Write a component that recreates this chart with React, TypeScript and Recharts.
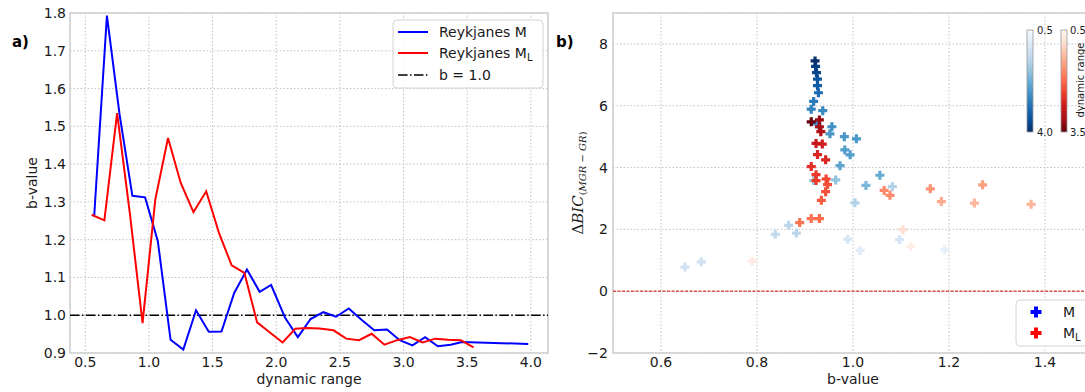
import React from "react"
import {
  LineChart,
  Line,
  ScatterChart,
  Scatter,
  XAxis,
  YAxis,
  CartesianGrid,
  ReferenceLine,
  ReferenceArea,
  Label
} from "recharts"

// panel a) b-value against dynamic range
const blueRange = [0.57, 0.67, 0.77, 0.87, 0.97, 1.07, 1.17, 1.27, 1.37, 1.47, 1.57, 1.67, 1.77, 1.87, 1.96, 2.07, 2.17, 2.27, 2.37, 2.47, 2.57, 2.67, 2.77, 2.87, 2.97, 3.07, 3.17, 3.27, 3.37, 3.46, 3.98]
const blueB = [1.262, 1.793, 1.53, 1.316, 1.312, 1.196, 0.935, 0.909, 1.013, 0.956, 0.957, 1.059, 1.121, 1.062, 1.08, 0.993, 0.942, 0.99, 1.008, 0.996, 1.018, 0.988, 0.96, 0.962, 0.934, 0.92, 0.942, 0.918, 0.922, 0.929, 0.924]
const redRange = [0.55, 0.65, 0.75, 0.85, 0.95, 1.05, 1.15, 1.25, 1.35, 1.45, 1.55, 1.65, 1.75, 1.85, 1.94, 2.05, 2.15, 2.24, 2.34, 2.45, 2.55, 2.65, 2.75, 2.85, 2.95, 3.05, 3.15, 3.25, 3.35, 3.45, 3.55]
const redB = [1.266, 1.251, 1.535, 1.27, 0.979, 1.306, 1.469, 1.35, 1.273, 1.328, 1.218, 1.132, 1.112, 0.981, 0.957, 0.928, 0.964, 0.966, 0.965, 0.96, 0.938, 0.934, 0.951, 0.922, 0.934, 0.942, 0.928, 0.938, 0.935, 0.934, 0.915]
const rangeTicks = [0.5, 1.0, 1.5, 2.0, 2.5, 3.0, 3.5, 4.0]
const bTicks = [0.9, 1.0, 1.1, 1.2, 1.3, 1.4, 1.5, 1.6, 1.7, 1.8]

// panel b) delta BIC against b-value, coloured by dynamic range
const mB = [0.65, 0.684, 1.191, 1.015, 0.989, 1.097, 0.838, 0.882, 0.866, 1.004, 1.082, 0.918, 0.964, 1.027, 0.973, 1.056, 0.994, 0.983, 1.007, 0.982, 0.952, 0.956, 0.925, 0.937, 0.913, 0.918, 0.928, 0.926, 0.926, 0.924, 0.922, 0.921]
const mDbic = [0.78, 0.95, 1.34, 1.32, 1.68, 1.67, 1.84, 1.88, 2.13, 2.86, 3.38, 3.58, 3.6, 3.42, 4.06, 3.75, 4.41, 4.57, 4.93, 5.0, 5.09, 5.32, 5.41, 5.84, 5.89, 6.14, 6.42, 6.65, 6.86, 7.07, 7.27, 7.45]
const mRange = [1.2, 1.2, 0.8, 0.9, 1.1, 1.1, 1.4, 1.5, 1.5, 1.6, 1.6, 1.8, 1.9, 2.1, 2.4, 2.3, 2.5, 2.5, 2.6, 2.6, 2.6, 2.7, 2.7, 2.8, 2.9, 3.0, 3.2, 3.4, 3.5, 3.7, 3.8, 4.0]
const mlB = [0.79, 1.12, 1.104, 1.371, 1.253, 1.184, 1.161, 1.27, 1.077, 1.065, 0.889, 0.913, 0.93, 0.934, 0.943, 0.947, 0.944, 0.923, 0.923, 0.913, 0.943, 0.926, 0.936, 0.923, 0.933, 0.93, 0.93, 0.913]
const mlDbic = [0.97, 1.45, 1.99, 2.81, 2.85, 2.9, 3.31, 3.44, 3.1, 3.26, 2.22, 2.35, 2.35, 2.94, 3.22, 3.45, 3.63, 3.58, 3.77, 4.03, 4.25, 4.42, 4.76, 4.78, 5.16, 5.32, 5.54, 5.48]
const mlRange = [0.7, 0.6, 0.9, 1.3, 1.3, 1.4, 1.6, 1.5, 1.7, 1.7, 1.9, 1.9, 2.0, 2.1, 2.2, 2.2, 2.3, 2.4, 2.4, 2.5, 2.6, 2.6, 2.7, 2.8, 3.0, 3.1, 3.2, 3.5]
const bvalTicks = [0.6, 0.8, 1.0, 1.2, 1.4]
const dbicTicks = [-2, 0, 2, 4, 6, 8]

const BLUES = ["#f7fbff", "#deebf7", "#c6dbef", "#9ecae1", "#6baed6", "#4292c6", "#2171b5", "#08519c", "#08306b"]
const REDS = ["#fff5f0", "#fee0d2", "#fcbba1", "#fc9272", "#fb6a4a", "#ef3b2c", "#cb181d", "#a50f15", "#67000d"]

const FONT = "'DejaVu Sans', Verdana, sans-serif"
const SPINE = "#cfcfcf"
const GRID = "#b4b4b4"

const hex = (h: string) => [1, 3, 5].map((i) => parseInt(h.slice(i, i + 2), 16))

const cmap = (stops: string[], lo: number, hi: number) => (v: number) => {
  const t = Math.min(1, Math.max(0, (v - lo) / (hi - lo)))
  const p = t * (stops.length - 1)
  const i = Math.min(stops.length - 2, Math.floor(p))
  const f = p - i
  const a = hex(stops[i])
  const b = hex(stops[i + 1])
  const c = a.map((x, k) => Math.round(x + (b[k] - x) * f))
  return `rgb(${c[0]},${c[1]},${c[2]})`
}
const blueColor = cmap(BLUES, 0.5, 4.0)
const redColor = cmap(REDS, 0.5, 3.5)

const blueLine = blueRange.map((x, i) => ({ x, y: blueB[i] }))
const redLine = redRange.map((x, i) => ({ x, y: redB[i] }))
const mPoints = mB.map((x, i) => ({ x, y: mDbic[i], dr: mRange[i] }))
const mlPoints = mlB.map((x, i) => ({ x, y: mlDbic[i], dr: mlRange[i] }))

const plusPath = (cx: number, cy: number, s: number, w: number) =>
  `M${cx - w},${cy - s}H${cx + w}V${cy - w}H${cx + s}V${cy + w}H${cx + w}V${cy + s}H${cx - w}V${cy + w}H${cx - s}V${cy - w}H${cx - w}Z`

const tickStyle = { fontSize: 14, fill: "#1a1a1a", fontFamily: FONT }
const f1 = (v: number) => v.toFixed(1)
const fInt = (v: number) => (v < 0 ? "\u2212" + Math.abs(v) : String(v))

const vbOf = (p: any) => p.viewBox ?? { x: 0, y: 0, width: 0, height: 0 }

export default function App() {
  return (
    <div
      style={{
        position: "absolute",
        left: 0,
        top: 0,
        width: 1085,
        height: 392,
        overflow: "hidden",
        background: "#fff",
        fontFamily: FONT
      }}
    >
      {/* a) */}
      <div style={{ position: "absolute", left: 0, top: 0 }}>
        <LineChart width={560} height={392} margin={{ top: 13, right: 12, bottom: 9, left: 20 }}>
          <CartesianGrid stroke={GRID} strokeDasharray="1.5 2" strokeWidth={0.8} />
          <XAxis
            dataKey="x"
            type="number"
            domain={[0.38, 4.135]}
            allowDataOverflow
            ticks={rangeTicks}
            tickFormatter={f1}
            tick={tickStyle}
            tickLine={false}
            axisLine={false}
            tickSize={2}
            tickMargin={2}
            height={30}
          >
            <Label
              content={(p: any) => {
                const vb = vbOf(p)
                return (
                  <text x={vb.x + vb.width / 2} y={vb.y + 31} textAnchor="middle" fontSize={14} fontFamily={FONT} fill="#1a1a1a">
                    dynamic range
                  </text>
                )
              }}
            />
          </XAxis>
          <YAxis
            type="number"
            domain={[0.9, 1.8]}
            allowDataOverflow
            ticks={bTicks}
            tickFormatter={f1}
            tick={tickStyle}
            tickLine={false}
            axisLine={false}
            tickSize={2}
            tickMargin={2}
            width={50}
          >
            <Label
              content={(p: any) => {
                const vb = vbOf(p)
                const cx = vb.x + 17
                const cy = vb.y + vb.height / 2
                return (
                  <text transform={`translate(${cx},${cy}) rotate(-90)`} textAnchor="middle" fontSize={14} fontFamily={FONT} fill="#1a1a1a">
                    b-value
                  </text>
                )
              }}
            />
          </YAxis>
          <ReferenceArea x1={0.38} x2={4.135} y1={0.9} y2={1.8} fill="none" stroke={SPINE} strokeWidth={1.5} ifOverflow="visible" />
          <ReferenceLine y={1.0} stroke="#000" strokeWidth={1.6} strokeDasharray="9.6 2.4 1.5 2.4" />
          <Line data={blueLine} dataKey="y" stroke="#0000ff" strokeWidth={2} dot={false} isAnimationActive={false} />
          <Line data={redLine} dataKey="y" stroke="#ff0000" strokeWidth={2} dot={false} isAnimationActive={false} />
        </LineChart>
      </div>

      {/* b) */}
      <div style={{ position: "absolute", left: 560, top: 0 }}>
        <ScatterChart width={540} height={392} margin={{ top: 13, right: 7, bottom: 9, left: 3 }}>
          <CartesianGrid stroke={GRID} strokeDasharray="1.5 2" strokeWidth={0.8} />
          <XAxis
            dataKey="x"
            type="number"
            domain={[0.5, 1.5]}
            allowDataOverflow
            ticks={bvalTicks}
            tickFormatter={f1}
            tick={tickStyle}
            tickLine={false}
            axisLine={false}
            tickSize={2}
            tickMargin={2}
            height={30}
          >
            <Label
              content={(p: any) => {
                const vb = vbOf(p)
                return (
                  <text x={vb.x + vb.width / 2} y={vb.y + 31} textAnchor="middle" fontSize={14} fontFamily={FONT} fill="#1a1a1a">
                    b-value
                  </text>
                )
              }}
            />
          </XAxis>
          <YAxis
            dataKey="y"
            type="number"
            domain={[-2, 9]}
            allowDataOverflow
            ticks={dbicTicks}
            tickFormatter={fInt}
            tick={tickStyle}
            tickLine={false}
            axisLine={false}
            tickSize={2}
            tickMargin={3}
            width={50}
          >
            <Label
              content={(p: any) => {
                const vb = vbOf(p)
                const cx = vb.x + 20
                const cy = vb.y + vb.height / 2
                return (
                  <text transform={`translate(${cx},${cy}) rotate(-90)`} textAnchor="middle" fontSize={15} fontFamily="'DejaVu Serif', serif" fill="#1a1a1a">
                    <tspan>Δ</tspan>
                    <tspan fontStyle="italic">BIC</tspan>
                    <tspan fontSize={10} dy={3}>(</tspan>
                    <tspan fontSize={10} fontStyle="italic">MGR</tspan>
                    <tspan fontSize={10}>{" \u2212 "}</tspan>
                    <tspan fontSize={10} fontStyle="italic">GR</tspan>
                    <tspan fontSize={10}>)</tspan>
                  </text>
                )
              }}
            />
          </YAxis>
          <ReferenceArea x1={0.5} x2={1.5} y1={-2} y2={9} fill="none" stroke={SPINE} strokeWidth={1.5} ifOverflow="visible" />
          <ReferenceLine y={0} stroke="#d40000" strokeWidth={1} strokeDasharray="3 1.5" />
          <Scatter
            data={mPoints}
            isAnimationActive={false}
            shape={(p: any) => <path d={plusPath(p.cx, p.cy, 4.5, 1.6)} fill={blueColor(p.payload.dr)} />}
          />
          <Scatter
            data={mlPoints}
            isAnimationActive={false}
            shape={(p: any) => <path d={plusPath(p.cx, p.cy, 4.5, 1.6)} fill={redColor(p.payload.dr)} />}
          />
        </ScatterChart>
      </div>

      {/* labels, legends, colour bars */}
      <svg width={1085} height={392} style={{ position: "absolute", left: 0, top: 0, pointerEvents: "none" }} fontFamily={FONT}>
        <defs>
          <linearGradient id="gBlue" x1="0" y1="0" x2="0" y2="1">
            {BLUES.map((c, i) => (
              <stop key={i} offset={i / (BLUES.length - 1)} stopColor={c} />
            ))}
          </linearGradient>
          <linearGradient id="gRed" x1="0" y1="0" x2="0" y2="1">
            {REDS.map((c, i) => (
              <stop key={i} offset={i / (REDS.length - 1)} stopColor={c} />
            ))}
          </linearGradient>
        </defs>

        <text x={12} y={47} fontSize={15} fontWeight="bold" fill="#000">a)</text>
        <text x={556} y={47} fontSize={15} fontWeight="bold" fill="#000">b)</text>

        {/* legend a) */}
        <rect x={393} y={20} width={150} height={68} rx={4} fill="rgba(255,255,255,0.85)" stroke="#d4d4d4" strokeWidth={1} />
        <line x1={398} x2={428} y1={32} y2={32} stroke="#0000ff" strokeWidth={2} />
        <text x={439} y={37} fontSize={14} fill="#1a1a1a">Reykjanes M</text>
        <line x1={398} x2={428} y1={53} y2={53} stroke="#ff0000" strokeWidth={2} />
        <text x={439} y={58} fontSize={14} fill="#1a1a1a">
          Reykjanes M<tspan fontSize={10} dy={3}>L</tspan>
        </text>
        <line x1={398} x2={428} y1={75} y2={75} stroke="#000" strokeWidth={1.6} strokeDasharray="9.6 2.4 1.5 2.4" />
        <text x={439} y={80} fontSize={14} fill="#1a1a1a">b = 1.0</text>

        {/* legend b) */}
        <rect x={1016} y={300} width={90} height={46} rx={4} fill="rgba(255,255,255,0.85)" stroke="#d4d4d4" strokeWidth={1} />
        <path d={plusPath(1036, 312, 5.5, 2)} fill="#0000ff" />
        <text x={1063} y={317} fontSize={14} fill="#1a1a1a">M</text>
        <path d={plusPath(1036, 333, 5.5, 2)} fill="#ff0000" />
        <text x={1063} y={338} fontSize={14} fill="#1a1a1a">
          M<tspan fontSize={10} dy={3}>L</tspan>
        </text>

        {/* colour bars */}
        <rect x={1027} y={30} width={6} height={102} fill="url(#gBlue)" stroke="#999" strokeWidth={0.8} />
        <text x={1037} y={34} fontSize={10} fill="#1a1a1a">0.5</text>
        <text x={1037} y={136} fontSize={10} fill="#1a1a1a">4.0</text>
        <rect x={1061} y={30} width={6} height={102} fill="url(#gRed)" stroke="#999" strokeWidth={0.8} />
        <text x={1070} y={34} fontSize={10} fill="#1a1a1a">0.5</text>
        <text x={1070} y={136} fontSize={10} fill="#1a1a1a">3.5</text>
        <text transform="translate(1084,80) rotate(-90)" textAnchor="middle" fontSize={10} fill="#1a1a1a">
          dynamic range
        </text>
      </svg>
    </div>
  )
}
